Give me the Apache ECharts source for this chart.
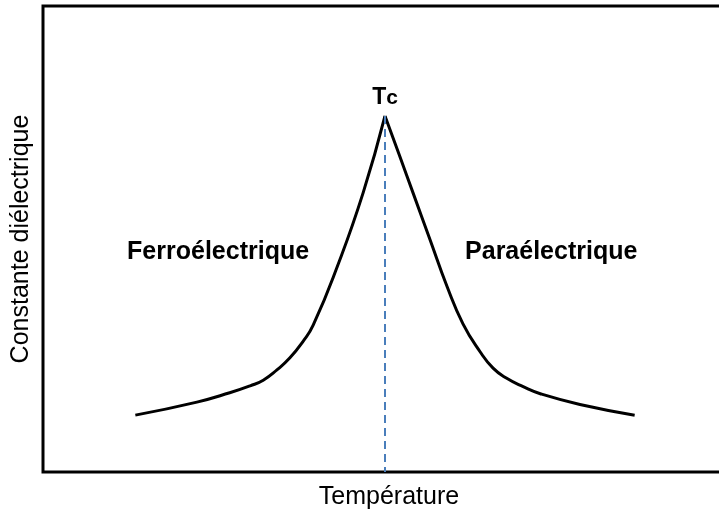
<!DOCTYPE html>
<html>
<head>
<meta charset="utf-8">
<script src="https://cdn.jsdelivr.net/npm/echarts@6/dist/echarts.min.js"></script>
<style>
  html, body { margin: 0; padding: 0; background: #fff; }
  #chart { width: 719px; height: 512px; }
</style>
</head>
<body>
<div id="chart"></div>
<script>
// Dielectric constant vs temperature around the Curie point (arbitrary units)
const ferroTemp = [13.5, 22.5, 27.3, 30.3, 32.2, 34.2, 36.1, 38.0, 39.5, 43.0, 46.8, 50.0];
const ferroEps  = [12.2, 15.0, 17.0, 18.5, 19.7, 21.9, 24.5, 28.0, 31.5, 44.0, 59.9, 76.4];
const paraTemp  = [50.0, 52.2, 54.1, 56.6, 59.1, 61.4, 63.9, 65.8, 67.8, 70.2, 72.7, 78.5, 86.5];
const paraEps   = [76.4, 67.6, 59.9, 49.8, 39.7, 31.8, 25.8, 22.3, 20.1, 18.3, 16.8, 14.5, 12.2];
const curieTemp = 50.0;
const curieEps  = 76.4;
const phaseNames = ['Ferroélectrique', 'Paraélectrique'];

const zip = (xs, ys) => xs.map((x, i) => [x, ys[i]]);
const font = '"Liberation Sans", Arial, sans-serif';

// invisible anchor carrying a text label
const textMark = (coord, label) => ({
  coord: coord,
  symbol: 'circle',
  symbolSize: 1,
  itemStyle: { color: 'rgba(0,0,0,0)' },
  label: Object.assign({ show: true, color: '#000', fontFamily: font }, label)
});

const chart = echarts.init(document.getElementById('chart'));
chart.setOption({
  animation: false,
  backgroundColor: '#fff',
  grid: {
    left: 43, top: 6, width: 684, height: 466,
    outerBoundsMode: 'none',
    containLabel: false,
    show: true, borderColor: '#000', borderWidth: 3, backgroundColor: 'transparent'
  },
  xAxis: {
    type: 'value', min: 0, max: 100,
    name: 'Température', nameLocation: 'middle', nameGap: 13,
    nameTextStyle: { color: '#000', fontFamily: font, fontSize: 25, verticalAlign: 'top', padding: [0, 0, 0, 8] },
    axisLine: { show: false }, axisTick: { show: false },
    axisLabel: { show: false }, splitLine: { show: false }
  },
  yAxis: {
    type: 'value', min: 0, max: 100,
    name: 'Constante diélectrique', nameLocation: 'middle', nameGap: 9,
    nameTextStyle: { color: '#000', fontFamily: font, fontSize: 25 },
    axisLine: { show: false }, axisTick: { show: false },
    axisLabel: { show: false }, splitLine: { show: false }
  },
  series: [
    {
      name: phaseNames[0],
      type: 'line',
      data: zip(ferroTemp, ferroEps),
      smooth: 0.5,
      showSymbol: false,
      lineStyle: { color: '#000', width: 3 },
      markPoint: {
        silent: true,
        data: [textMark([25.6, 47.2], {
          formatter: phaseNames[0], position: 'inside', fontWeight: 'bold', fontSize: 25
        })]
      },
      markLine: {
        silent: true,
        symbol: 'none',
        lineStyle: { color: '#4a7ebb', width: 2, type: [8, 5] },
        label: { show: false },
        data: [[{ coord: [curieTemp, curieEps] }, { coord: [curieTemp, 0] }]]
      }
    },
    {
      name: phaseNames[1],
      type: 'line',
      data: zip(paraTemp, paraEps),
      smooth: 0.5,
      showSymbol: false,
      lineStyle: { color: '#000', width: 3 },
      markPoint: {
        silent: true,
        data: [
          textMark([74.3, 47.2], {
            formatter: phaseNames[1], position: 'inside', fontWeight: 'bold', fontSize: 25
          }),
          textMark([curieTemp, curieEps], {
            position: 'top',
            distance: 6,
            formatter: '{t|T}{c|c}',
            rich: {
              t: { color: '#000', fontFamily: font, fontWeight: 'bold', fontSize: 23 },
              c: { color: '#000', fontFamily: font, fontWeight: 'bold', fontSize: 21 }
            }
          })
        ]
      }
    }
  ]
});
</script>
</body>
</html>
